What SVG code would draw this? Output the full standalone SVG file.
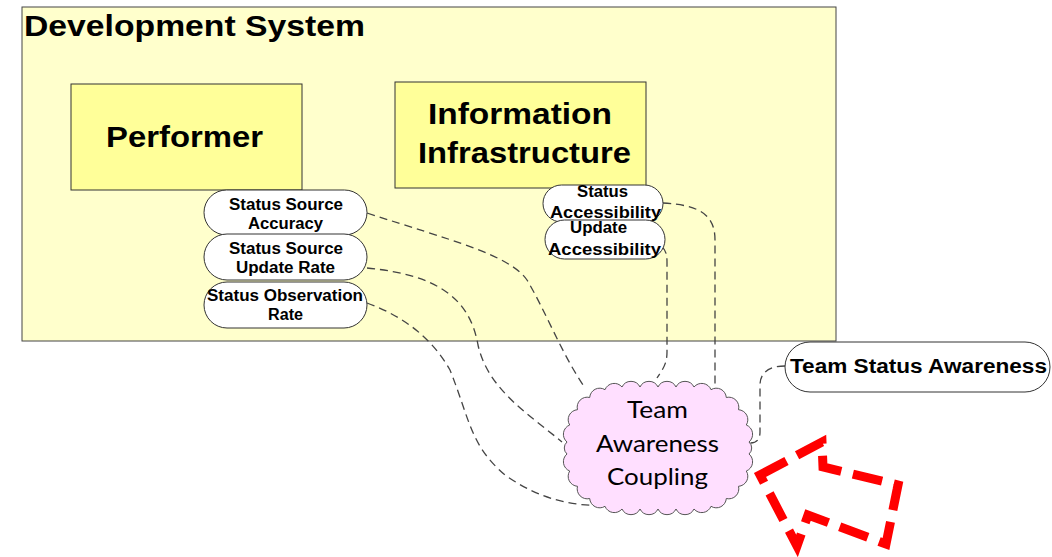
<svg xmlns="http://www.w3.org/2000/svg" width="1052" height="557" viewBox="0 0 1052 557">
<style>
.b{font-family:"Liberation Sans",Arial,sans-serif;font-weight:bold;fill:#000}
.pill{fill:#fff;stroke:#333;stroke-width:1}
.box{fill:#ffff99;stroke:#333;stroke-width:1}
.con{fill:none;stroke:#444;stroke-width:1.3;stroke-dasharray:8 5}
.c{font-family:Lato,"Open Sans",sans-serif;fill:#000;font-size:23px}
</style>
<rect width="1052" height="557" fill="#fff"/>
<g id="development-system">
<rect x="22" y="7" width="814" height="334" fill="#ffffcc" stroke="#444" stroke-width="1"/>
<text class="b" x="24" y="36" font-size="30" textLength="341" lengthAdjust="spacingAndGlyphs">Development System</text>
</g>
<g id="performer">
<rect class="box" x="71" y="84" width="231" height="106"/>
<text class="b" x="106" y="147" font-size="30" textLength="157" lengthAdjust="spacingAndGlyphs">Performer</text>
</g>
<g id="information-infrastructure">
<rect class="box" x="395" y="82" width="251" height="106"/>
<text class="b" x="428" y="124" font-size="30" textLength="184" lengthAdjust="spacingAndGlyphs">Information</text>
<text class="b" x="418" y="163" font-size="30" textLength="213" lengthAdjust="spacingAndGlyphs">Infrastructure</text>
</g>
<g id="connectors">
<path class="con" d="M367,213 C450,240 510,255 527,280 C545,310 560,350 583,385"/>
<path class="con" d="M367,268 C440,275 470,300 478,345 C488,390 530,415 562,442"/>
<path class="con" d="M367,303 C400,315 430,335 450,370 C470,420 470,445 505,475 C540,500 575,506 598,505 L605,499"/>
<path class="con" d="M663,203 C700,205 715,215 715,240 L715,392"/>
<path class="con" d="M662,247 C666,250 667,255 667,262 L667,352 C667,365 662,370 657,378"/>
<path class="con" d="M785,366 C770,366 760,372 760,385 L760,432 C760,440 756,443 750,443"/>
</g>
<g id="status-source-accuracy">
<rect class="pill" x="204" y="190" width="163" height="45" rx="22.5"/>
<text class="b" x="229" y="210" font-size="16" textLength="114" lengthAdjust="spacingAndGlyphs">Status Source</text>
<text class="b" x="248" y="229" font-size="16" textLength="75" lengthAdjust="spacingAndGlyphs">Accuracy</text>
</g>
<g id="status-source-update-rate">
<rect class="pill" x="204" y="234" width="163" height="46" rx="23"/>
<text class="b" x="229" y="254" font-size="16" textLength="114" lengthAdjust="spacingAndGlyphs">Status Source</text>
<text class="b" x="236" y="273" font-size="16" textLength="99" lengthAdjust="spacingAndGlyphs">Update Rate</text>
</g>
<g id="status-observation-rate">
<rect class="pill" x="204" y="282" width="163" height="46" rx="23"/>
<text class="b" x="207" y="301" font-size="16" textLength="156" lengthAdjust="spacingAndGlyphs">Status Observation</text>
<text class="b" x="268" y="320" font-size="16" textLength="35" lengthAdjust="spacingAndGlyphs">Rate</text>
</g>
<g id="status-accessibility">
<rect class="pill" x="543" y="185" width="120" height="37" rx="18.5"/>
<text class="b" x="577" y="197" font-size="16" textLength="51" lengthAdjust="spacingAndGlyphs">Status</text>
<text class="b" x="550" y="218" font-size="16" textLength="111" lengthAdjust="spacingAndGlyphs">Accessibility</text>
</g>
<g id="update-accessibility">
<rect class="pill" x="545" y="220" width="120" height="39" rx="19.5"/>
<text class="b" x="570" y="233" font-size="16" textLength="57" lengthAdjust="spacingAndGlyphs">Update</text>
<text class="b" x="548" y="255" font-size="16" textLength="113" lengthAdjust="spacingAndGlyphs">Accessibility</text>
</g>
<g id="team-status-awareness">
<rect class="pill" x="785" y="342" width="265" height="50" rx="25"/>
<text class="b" x="790" y="373" font-size="19.5" textLength="257" lengthAdjust="spacingAndGlyphs">Team Status Awareness</text>
</g>
<g id="team-awareness-coupling">
<path fill="#ffdfff" stroke="#555" stroke-width="1" d="M622,387 A10,10 0 0 1 640,387 A10,10 0 0 1 658,387 A10,10 0 0 1 676,387 A10,10 0 0 1 694,387 A10,10 0 0 1 711,389.7 A10,10 0 0 1 726.3,397.5 A10,10 0 0 1 738.5,409.7 A10,10 0 0 1 746.3,425 A10,10 0 0 1 749,442 A8,8 0 0 1 749,454 A10,10 0 0 1 746.3,471 A10,10 0 0 1 738.5,486.3 A10,10 0 0 1 726.3,498.5 A10,10 0 0 1 711,506.3 A10,10 0 0 1 694,509 A10,10 0 0 1 676,509 A10,10 0 0 1 658,509 A10,10 0 0 1 640,509 A10,10 0 0 1 622,509 A10,10 0 0 1 605,506.3 A10,10 0 0 1 589.7,498.5 A10,10 0 0 1 577.5,486.3 A10,10 0 0 1 569.7,471 A10,10 0 0 1 567,454 A8,8 0 0 1 567,442 A10,10 0 0 1 569.7,425 A10,10 0 0 1 577.5,409.7 A10,10 0 0 1 589.7,397.5 A10,10 0 0 1 605,389.7 A10,10 0 0 1 622,387 Z"/>
<text class="c" x="627" y="418" textLength="61" lengthAdjust="spacingAndGlyphs">Team</text>
<text class="c" x="596" y="452" textLength="123" lengthAdjust="spacingAndGlyphs">Awareness</text>
<text class="c" x="607" y="485" textLength="101" lengthAdjust="spacingAndGlyphs">Coupling</text>
</g>
<g id="red-arrow">
<polygon points="760,475 822,442 823,467 898,485 886,544 808,515 797,546" fill="none" stroke="#ff0000" stroke-width="9" stroke-dasharray="30 12" stroke-linejoin="miter" stroke-miterlimit="10"/>
</g>
</svg>
